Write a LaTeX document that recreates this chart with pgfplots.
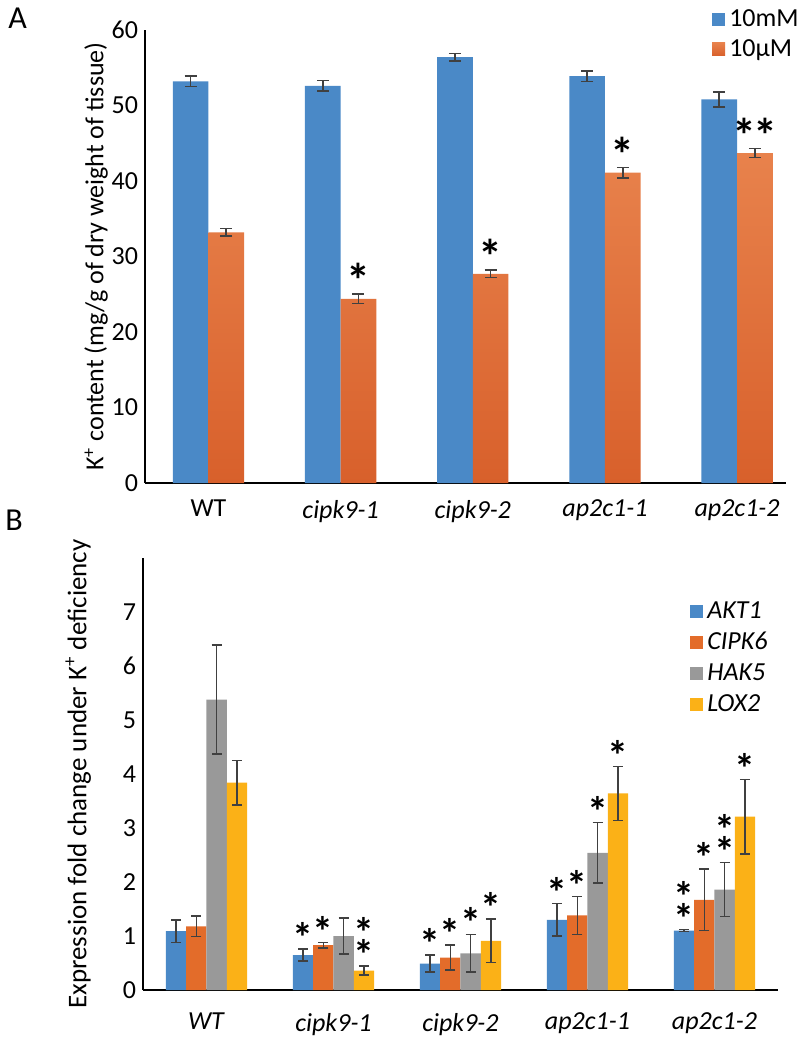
\documentclass[border=0pt]{standalone}
\usepackage{fontspec}
\setmainfont{Carlito}
\usepackage{pgfplots}
\pgfplotsset{compat=1.18}

\definecolor{cblue}{HTML}{4A89C7}
\definecolor{oTop}{HTML}{E8824C}
\definecolor{oMid}{HTML}{F06A24}
\definecolor{oBot}{HTML}{D8602B}
\definecolor{corange}{HTML}{E36C2A}
\definecolor{cgray}{HTML}{999999}
\definecolor{cyellow}{HTML}{FBB117}
\definecolor{errc}{HTML}{404040}

\protected\def\ds{\shortstack{*\\[-7pt]*}}

\pgfplotsset{
  common/.style={
    scale only axis, ybar,
    axis x line*=bottom, axis y line*=left,
    axis line style={line width=0.8pt},
    major tick length=0pt,
    xtick=data, xmin=-0.5, xmax=4.5,
    tick label style={font=\fontsize{13}{15}\selectfont},
    /pgf/number format/assume math mode=true,
    legend cell align=left,
    legend image code/.code={\fill[##1,draw=none] (0pt,-3.3pt) rectangle (6.6pt,3.3pt);},
  },
  errs/.style={
    error bars/.cd, y dir=both, y explicit,
    error bar style={errc, line width=0.8pt},
    error mark options={errc, rotate=90, mark size=#1, line width=0.8pt},
  },
  stars/.style={
    draw=none, fill=none, forget plot,
    nodes near coords, point meta=explicit symbolic,
    every node near coord/.append style={anchor=south, inner sep=0pt, align=center,
      font=\fontsize{#1}{#1}\selectfont\bfseries, yshift=-2pt},
  },
}

\begin{document}
\begin{tikzpicture}
\useasboundingbox (0,0) rectangle (399.5pt,-520.5pt);

% panel labels
\node[anchor=north west, inner sep=0pt, font=\fontsize{16}{16}\selectfont] at (4pt,-4pt) {A};
\node[anchor=north west, inner sep=0pt, font=\fontsize{16}{16}\selectfont] at (2.5pt,-255pt) {B};

% ---------- panel A ----------
\begin{axis}[common,
  at={(72.5pt,-241.5pt)}, anchor=south west,
  width=320.5pt, height=226.5pt,
  xmin=-0.48, xmax=4.37,
  ymin=0, ymax=60, ytick={0,10,...,60},
  bar width=0.27,
  xticklabels={WT, \textit{cipk9-1}, \textit{cipk9-2}, \textit{ap2c1-1}, \textit{ap2c1-2}},
  x tick label style={yshift=-5pt},
  ylabel={K\textsuperscript{+} content (mg/g of dry weight of tissue)},
  ylabel style={font=\fontsize{13}{15}\selectfont, yshift=-5pt},
  legend style={draw=none, fill=none, at={(0.884,1.055)}, anchor=north west,
    font=\fontsize{13}{15}\selectfont, row sep=1pt, inner sep=0pt},
]
\addplot[fill=cblue, draw=none, bar shift=-0.135, errs=3pt]
  coordinates {(0,53.2) +- (0,0.7) (1,52.6) +- (0,0.7) (2,56.4) +- (0,0.5)
               (3,53.9) +- (0,0.7) (4,50.8) +- (0,1.0)};
\addplot[top color=oTop, middle color=oMid, bottom color=oBot, draw=none, bar shift=0.135, errs=3pt]
  coordinates {(0,33.2) +- (0,0.5) (1,24.4) +- (0,0.6) (2,27.7) +- (0,0.5)
               (3,41.1) +- (0,0.7) (4,43.7) +- (0,0.6)};
\addplot[stars=24, bar shift=0.135]
  coordinates {(1,25.0) [*] (2,28.2) [*] (3,41.8) [*] (4,44.3) [*\kern-1pt*]};
\legend{10mM, 10μM}
\end{axis}

% ---------- panel B ----------
\begin{axis}[common,
  at={(71.5pt,-495pt)}, anchor=south west,
  width=317.5pt, height=216pt,
  ymin=0, ymax=8, ytick={0,...,7},
  bar width=0.16,
  xticklabels={\textit{WT}, \textit{cipk9-1}, \textit{cipk9-2}, \textit{ap2c1-1}, \textit{ap2c1-2}},
  x tick label style={yshift=-8pt},
  ylabel={Expression fold change under K\textsuperscript{+} deficiency},
  ylabel style={font=\fontsize{13.5}{15}\selectfont, yshift=9pt},
  legend style={draw=none, fill=none, at={(0.861,0.91)}, anchor=north west,
    font=\fontsize{13}{15}\selectfont\itshape, row sep=1.5pt, inner sep=0pt},
]
\addplot[fill=cblue, draw=none, bar shift=-0.24, errs=2.5pt]
  coordinates {(0,1.09) +- (0,0.21) (1,0.645) +- (0,0.11) (2,0.49) +- (0,0.16)
               (3,1.30) +- (0,0.30) (4,1.10) +- (0,0.02)};
\addplot[fill=corange, draw=none, bar shift=-0.08, errs=2.5pt]
  coordinates {(0,1.18) +- (0,0.19) (1,0.83) +- (0,0.05) (2,0.60) +- (0,0.23)
               (3,1.38) +- (0,0.35) (4,1.67) +- (0,0.57)};
\addplot[fill=cgray, draw=none, bar shift=0.08, errs=2.5pt]
  coordinates {(0,5.38) +- (0,1.01) (1,1.00) +- (0,0.33) (2,0.68) +- (0,0.35)
               (3,2.54) +- (0,0.56) (4,1.86) +- (0,0.50)};
\addplot[fill=cyellow, draw=none, bar shift=0.24, errs=2.5pt]
  coordinates {(0,3.84) +- (0,0.41) (1,0.36) +- (0,0.08) (2,0.91) +- (0,0.40)
               (3,3.64) +- (0,0.50) (4,3.21) +- (0,0.69)};
\addplot[stars=21, bar shift=-0.24]
  coordinates {(1,0.76) [*] (2,0.65) [*] (3,1.60) [*] (4,1.12) [\ds]};
\addplot[stars=21, bar shift=-0.08]
  coordinates {(1,0.88) [*] (2,0.83) [*] (3,1.73) [*] (4,2.24) [*]};
\addplot[stars=21, bar shift=0.08]
  coordinates {(2,1.03) [*] (3,3.10) [*] (4,2.36) [\ds]};
\addplot[stars=21, bar shift=0.24]
  coordinates {(1,0.44) [\ds] (2,1.31) [*] (3,4.14) [*] (4,3.90) [*]};
\legend{AKT1, CIPK6, HAK5, LOX2}
\end{axis}
\end{tikzpicture}
\end{document}
